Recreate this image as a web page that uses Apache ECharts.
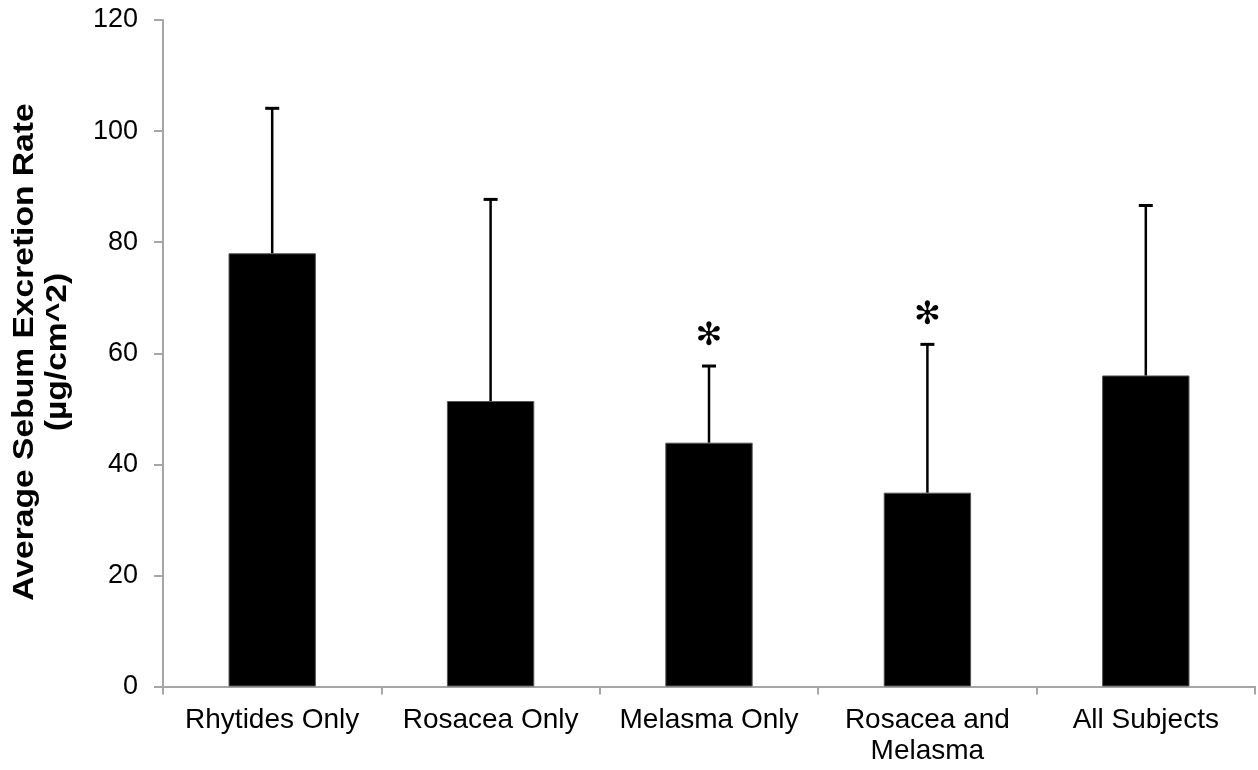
<!DOCTYPE html>
<html>
<head>
<meta charset="utf-8">
<script src="https://cdn.jsdelivr.net/npm/echarts@6/dist/echarts.min.js"></script>
<style>
  html, body { margin: 0; padding: 0; background: #ffffff; }
  #chart { width: 1258px; height: 770px; }
</style>
</head>
<body>
<div id="chart"></div>
<script>
// Average sebum excretion rate by subject group (mean + upper SD)
const categories = ['Rhytides Only', 'Rosacea Only', 'Melasma Only', 'Rosacea and\nMelasma', 'All Subjects'];
const meanValues = [78.0, 51.4, 43.9, 34.9, 56.0];
const upperValues = [104.1, 87.7, 57.7, 61.6, 86.6];
const significant = [false, false, true, true, false];
const yTicks = [0, 20, 40, 60, 80, 100, 120];

const axisGray = '#a6a6a6';
const textFont = 'Liberation Sans, Arial, sans-serif';

const chart = echarts.init(document.getElementById('chart'), null, { renderer: 'canvas' });

const errData = categories.map((c, i) => [i, meanValues[i], upperValues[i], significant[i] ? 1 : 0]);

const option = {
  animation: false,
  backgroundColor: '#ffffff',
  grid: { left: 163, right: 3, top: 20, bottom: 83.5, containLabel: false },
  xAxis: {
    type: 'category',
    data: categories,
    axisLine: { lineStyle: { color: axisGray, width: 2 } },
    axisTick: { show: true, alignWithLabel: false, length: 8, lineStyle: { color: axisGray, width: 2 } },
    axisLabel: {
      color: '#000000', fontSize: 28, fontFamily: textFont, margin: 18,
      lineHeight: 31, interval: 0
    },
    splitLine: { show: false }
  },
  yAxis: {
    type: 'value',
    min: yTicks[0],
    max: yTicks[yTicks.length - 1],
    interval: 20,
    axisLine: { show: true, lineStyle: { color: axisGray, width: 2 } },
    axisTick: { show: true, length: 9, lineStyle: { color: axisGray, width: 2 } },
    axisLabel: { color: '#000000', fontSize: 27, fontFamily: textFont, margin: 25 },
    splitLine: { show: false }
  },
  series: [
    {
      type: 'bar',
      data: meanValues,
      barWidth: '40%',
      itemStyle: { color: '#000000', borderColor: '#555555', borderWidth: 1 },
      z: 2
    },
    {
      // upper error bars with caps, plus significance markers
      type: 'custom',
      data: errData,
      z: 3,
      renderItem: function (params, api) {
        const x = api.value(0);
        const base = api.coord([x, api.value(1)]);
        const top = api.coord([x, api.value(2)]);
        const capHalf = 7;
        const children = [
          { type: 'line', shape: { x1: base[0], y1: base[1], x2: top[0], y2: top[1] },
            style: { stroke: '#000000', lineWidth: 2.5 } },
          { type: 'line', shape: { x1: top[0] - capHalf, y1: top[1], x2: top[0] + capHalf, y2: top[1] },
            style: { stroke: '#000000', lineWidth: 3 } }
        ];
        if (api.value(3) === 1) {
          children.push({
            type: 'text',
            style: {
              text: '\u273B', x: top[0], y: top[1] - 29,
              fill: '#000000', font: '32px "DejaVu Sans"',
              align: 'center', verticalAlign: 'middle'
            }
          });
        }
        return { type: 'group', children: children };
      }
    }
  ],
  graphic: [
    {
      type: 'text', x: 25, y: 352, rotation: Math.PI / 2, scaleX: 1.12,
      style: {
        text: 'Average Sebum Excretion Rate', fill: '#000000',
        font: 'bold 30px "Liberation Sans", Arial, sans-serif',
        align: 'center', verticalAlign: 'middle'
      }
    },
    {
      type: 'text', x: 58, y: 352, rotation: Math.PI / 2, scaleX: 1.12,
      style: {
        text: '(\u00B5g/cm^2)', fill: '#000000',
        font: 'bold 30px "Liberation Sans", Arial, sans-serif',
        align: 'center', verticalAlign: 'middle'
      }
    }
  ]
};

chart.setOption(option);
</script>
</body>
</html>
